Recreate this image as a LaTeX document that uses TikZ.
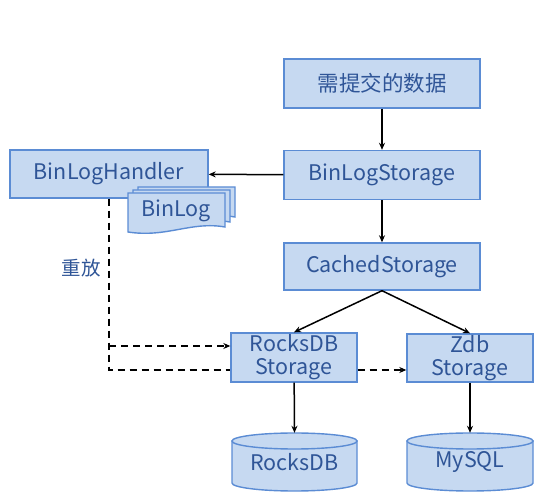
\documentclass[tikz,border=0pt]{standalone}
\usepackage{fontspec}
\setmainfont{Noto Sans CJK SC}
\usetikzlibrary{arrows.meta,calc}
\definecolor{boxfill}{HTML}{C6D9F1}
\definecolor{boxline}{HTML}{5B8CD4}
\definecolor{boxtext}{HTML}{2F5597}
\tikzset{
  x=1pt,y=1pt,
  blfont/.style={font=\fontsize{21.5}{26}\selectfont},
  blbox/.style={draw=boxline,fill=boxfill,line width=1.4pt,text=boxtext,blfont,inner sep=0pt,align=center},
  arr/.style={line width=1.5pt,-{Stealth[length=7pt,width=6pt]}},
  darr/.style={line width=1.5pt,dash pattern=on 7pt off 5pt,-{Stealth[length=7pt,width=6pt]}},
  dln/.style={line width=1.5pt,dash pattern=on 7pt off 5pt},
  cyl/.style={draw=boxline,fill=boxfill,line width=1.4pt},
}
\newcommand\bldoc[4]{% x, topY, w, h
  \path[cyl] (#1,#2) -- ({#1+#3},#2) -- ({#1+#3},{#2-#4+5})
    .. controls ({#1+0.65*#3},{#2-#4+11}) and ({#1+0.4*#3},{#2-#4-6}) .. (#1,{#2-#4}) -- cycle;}
\newcommand\blcyl[3]{% cx, left x, right x
  \path[cyl] (#2,62) -- (#2,20) arc[start angle=180,end angle=360,x radius={(#3-#2)/2*1pt},y radius=8pt] -- (#3,62) -- cycle;
  \path[cyl] (#1,62) ellipse[x radius={(#3-#2)/2*1pt},y radius=8pt];}
\begin{document}
\begin{tikzpicture}
\useasboundingbox[fill=white] (0,0) rectangle (554,503);
\node[blbox,minimum width=196pt,minimum height=49pt] (sub) at (382,419.5) {需提交的数据};
\node[blbox,minimum width=196pt,minimum height=49pt] (bls) at (382,328) {BinLogStorage};
\node[blbox,minimum width=198pt,minimum height=48pt] (bh) at (109,329) {BinLogHandler};
\node[blbox,minimum width=196pt,minimum height=47pt] (cs) at (382,236.5) {CachedStorage};
\node[blbox,minimum width=126pt,minimum height=49pt] (rs) at (294,145.5) {RocksDB\\[-3pt]Storage};
\node[blbox,minimum width=126pt,minimum height=48pt] (zs) at (470,145) {Zdb\\[-3pt]Storage};
% BinLog documents
\bldoc{138}{316}{97}{35}
\bldoc{133}{313}{97}{37}
\bldoc{128}{310}{97}{39}
\node[text=boxtext,blfont,inner sep=0pt] (bl) at (176,292) {BinLog};
% cylinders
\blcyl{294.5}{232}{357}
\node[text=boxtext,blfont,inner sep=0pt,minimum width=125pt,minimum height=58pt] (rdb) at (294.5,41) {RocksDB};
\blcyl{470}{407}{533}
\node[text=boxtext,blfont,inner sep=0pt,minimum width=126pt,minimum height=58pt] (my) at (470,41) {MySQL};
\node[text=boxtext,font=\fontsize{19.5}{22}\selectfont,inner sep=0pt] (rp) at (81,235) {重放};
% arrows
\draw[arr] (sub) -- (bls);
\draw[arr] (bls) -- (bh);
\draw[arr] (bls) -- (cs);
\draw[arr] (cs.south) -- (rs.north);
\draw[arr] (cs.south) -- (zs.north);
\draw[arr] (rs) -- (rdb.north);
\draw[arr] (zs) -- (my.north);
\coordinate (c1) at (bh.south |- 0,157);
\coordinate (c2) at (bh.south |- 0,133);
\draw[darr] (c1) -- (rs.west |- c1);
\draw[dln] (bh.south) -- (c2) -- (rs.west |- c2);
\draw[darr] (rs.east |- c2) -- (zs.west |- c2);
\end{tikzpicture}
\end{document}
